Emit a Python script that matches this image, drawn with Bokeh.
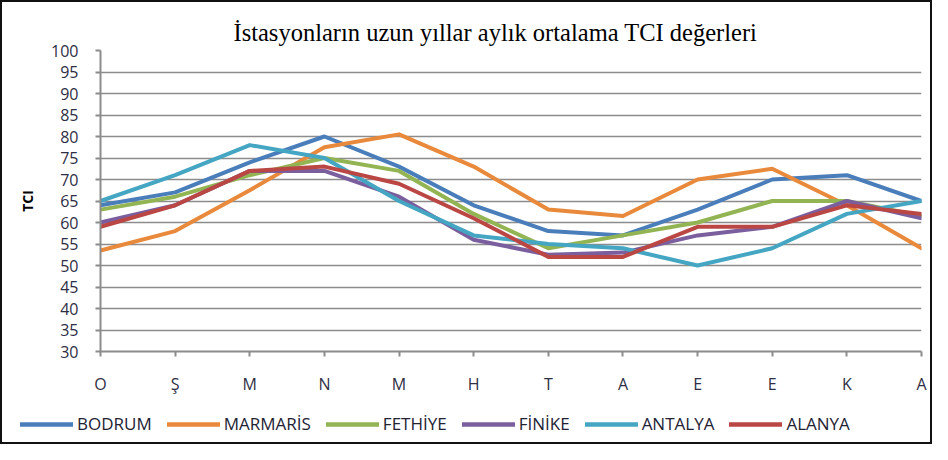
from bokeh.plotting import figure
from bokeh.layouts import column
from bokeh.models import Range1d, FixedTicker, Legend, LegendItem
from bokeh.embed import file_html
from bokeh.resources import INLINE

months = ["O", "Ş", "M", "N", "M", "H", "T", "A", "E", "E", "K", "A"]
y_ticks = [30, 35, 40, 45, 50, 55, 60, 65, 70, 75, 80, 85, 90, 95, 100]

names = ["BODRUM", "MARMARİS", "FETHİYE", "FİNİKE", "ANTALYA", "ALANYA"]
bodrum = [64, 67, 74, 80, 73, 64, 58, 57, 63, 70, 71, 65]
marmaris = [53.5, 58, 67.5, 77.5, 80.5, 73, 63, 61.5, 70, 72.5, 64, 54]
fethiye = [63, 66, 71, 75, 72, 62, 54, 57, 60, 65, 65, 61.5]
finike = [60, 64, 72, 72, 66, 56, 52.5, 53, 57, 59, 65, 61]
antalya = [65, 71, 78, 75, 65, 57, 55, 54, 50, 54, 62, 65]
alanya = [59, 64, 72, 73, 69, 61, 52, 52, 59, 59, 64, 62]
values = [bodrum, marmaris, fethiye, finike, antalya, alanya]
colors = ["#4A7EBB", "#E8893B", "#93B453", "#7A5E9E", "#44A6C2", "#BA4744"]

x = list(range(len(months)))

p = figure(width=928, height=400, output_backend="svg", toolbar_location=None,
           x_range=Range1d(0, len(months) - 1), y_range=Range1d(30, 100),
           min_border_left=98, min_border_right=9, min_border_top=48,
           min_border_bottom=51,
           title="İstasyonların uzun yıllar aylık ortalama TCI değerleri")
p.outline_line_color = None
p.background_fill_color = "white"
p.border_fill_color = "white"

p.title.align = "left"
p.title.offset = 133
p.title.standoff = 10
p.title.text_font = "Liberation Serif"
p.title.text_font_size = "24.5px"
p.title.text_font_style = "normal"
p.title.text_color = "#000000"

axis_col = "#8c8c8c"
for ax in (p.xaxis[0], p.yaxis[0]):
    ax.axis_line_color = axis_col
    ax.axis_line_width = 2
    ax.major_tick_line_color = axis_col
    ax.major_tick_line_width = 2
    ax.major_tick_in = 0
    ax.major_tick_out = 5
    ax.minor_tick_line_color = None
    ax.major_label_text_font = "Open Sans"
    ax.major_label_text_font_size = "16px"
    ax.major_label_text_color = "#2e2e44"

p.xaxis.ticker = FixedTicker(ticks=x)
p.xaxis.major_label_overrides = {i: m for i, m in enumerate(months)}
p.xaxis.major_label_standoff = 16

p.yaxis.ticker = FixedTicker(ticks=y_ticks)
p.yaxis.major_label_standoff = 17
p.yaxis.axis_label = "TCI"
p.yaxis.axis_label_text_font = "Open Sans"
p.yaxis.axis_label_text_font_size = "14px"
p.yaxis.axis_label_text_font_style = "bold"
p.yaxis.axis_label_text_color = "#000000"
p.yaxis.axis_label_standoff = 11

p.xgrid.visible = False
p.ygrid.grid_line_color = axis_col
p.ygrid.grid_line_width = 1.6

for vals, col in zip(values, colors):
    p.line(x, vals, line_color=col, line_width=4, line_join="round", line_cap="round")

# legend strip below the chart (its own frame covers the whole strip)
lg = figure(width=928, height=40, output_backend="svg", toolbar_location=None,
            x_range=Range1d(0, 1), y_range=Range1d(0, 1),
            x_axis_type=None, y_axis_type=None,
            min_border_left=0, min_border_right=0, min_border_top=0,
            min_border_bottom=0)
try:
    lg.frame_align = False
except Exception:
    pass
lg.outline_line_color = None
lg.xgrid.visible = False
lg.ygrid.visible = False
lg.background_fill_color = "white"
lg.border_fill_color = "white"

items = []
for name, vals, col in zip(names, values, colors):
    # series drawn out of this strip's view; only their legend glyphs show
    r = lg.line(x, vals, line_color=col, line_width=4.5, line_cap="round")
    items.append(LegendItem(label=name, renderers=[r]))

legend = Legend(items=items, orientation="horizontal", location=(18, 7),
                glyph_width=53, glyph_height=20, label_height=20,
                label_standoff=4, spacing=15, padding=0, margin=0,
                border_line_color=None, background_fill_alpha=0,
                label_text_font="Open Sans", label_text_font_size="17px",
                label_text_color="#222233")
lg.add_layout(legend, "center")

layout = column(p, lg, spacing=0, styles={"border": "2px solid #111111"})

open("out.html", "w").write(file_html(layout, INLINE))
